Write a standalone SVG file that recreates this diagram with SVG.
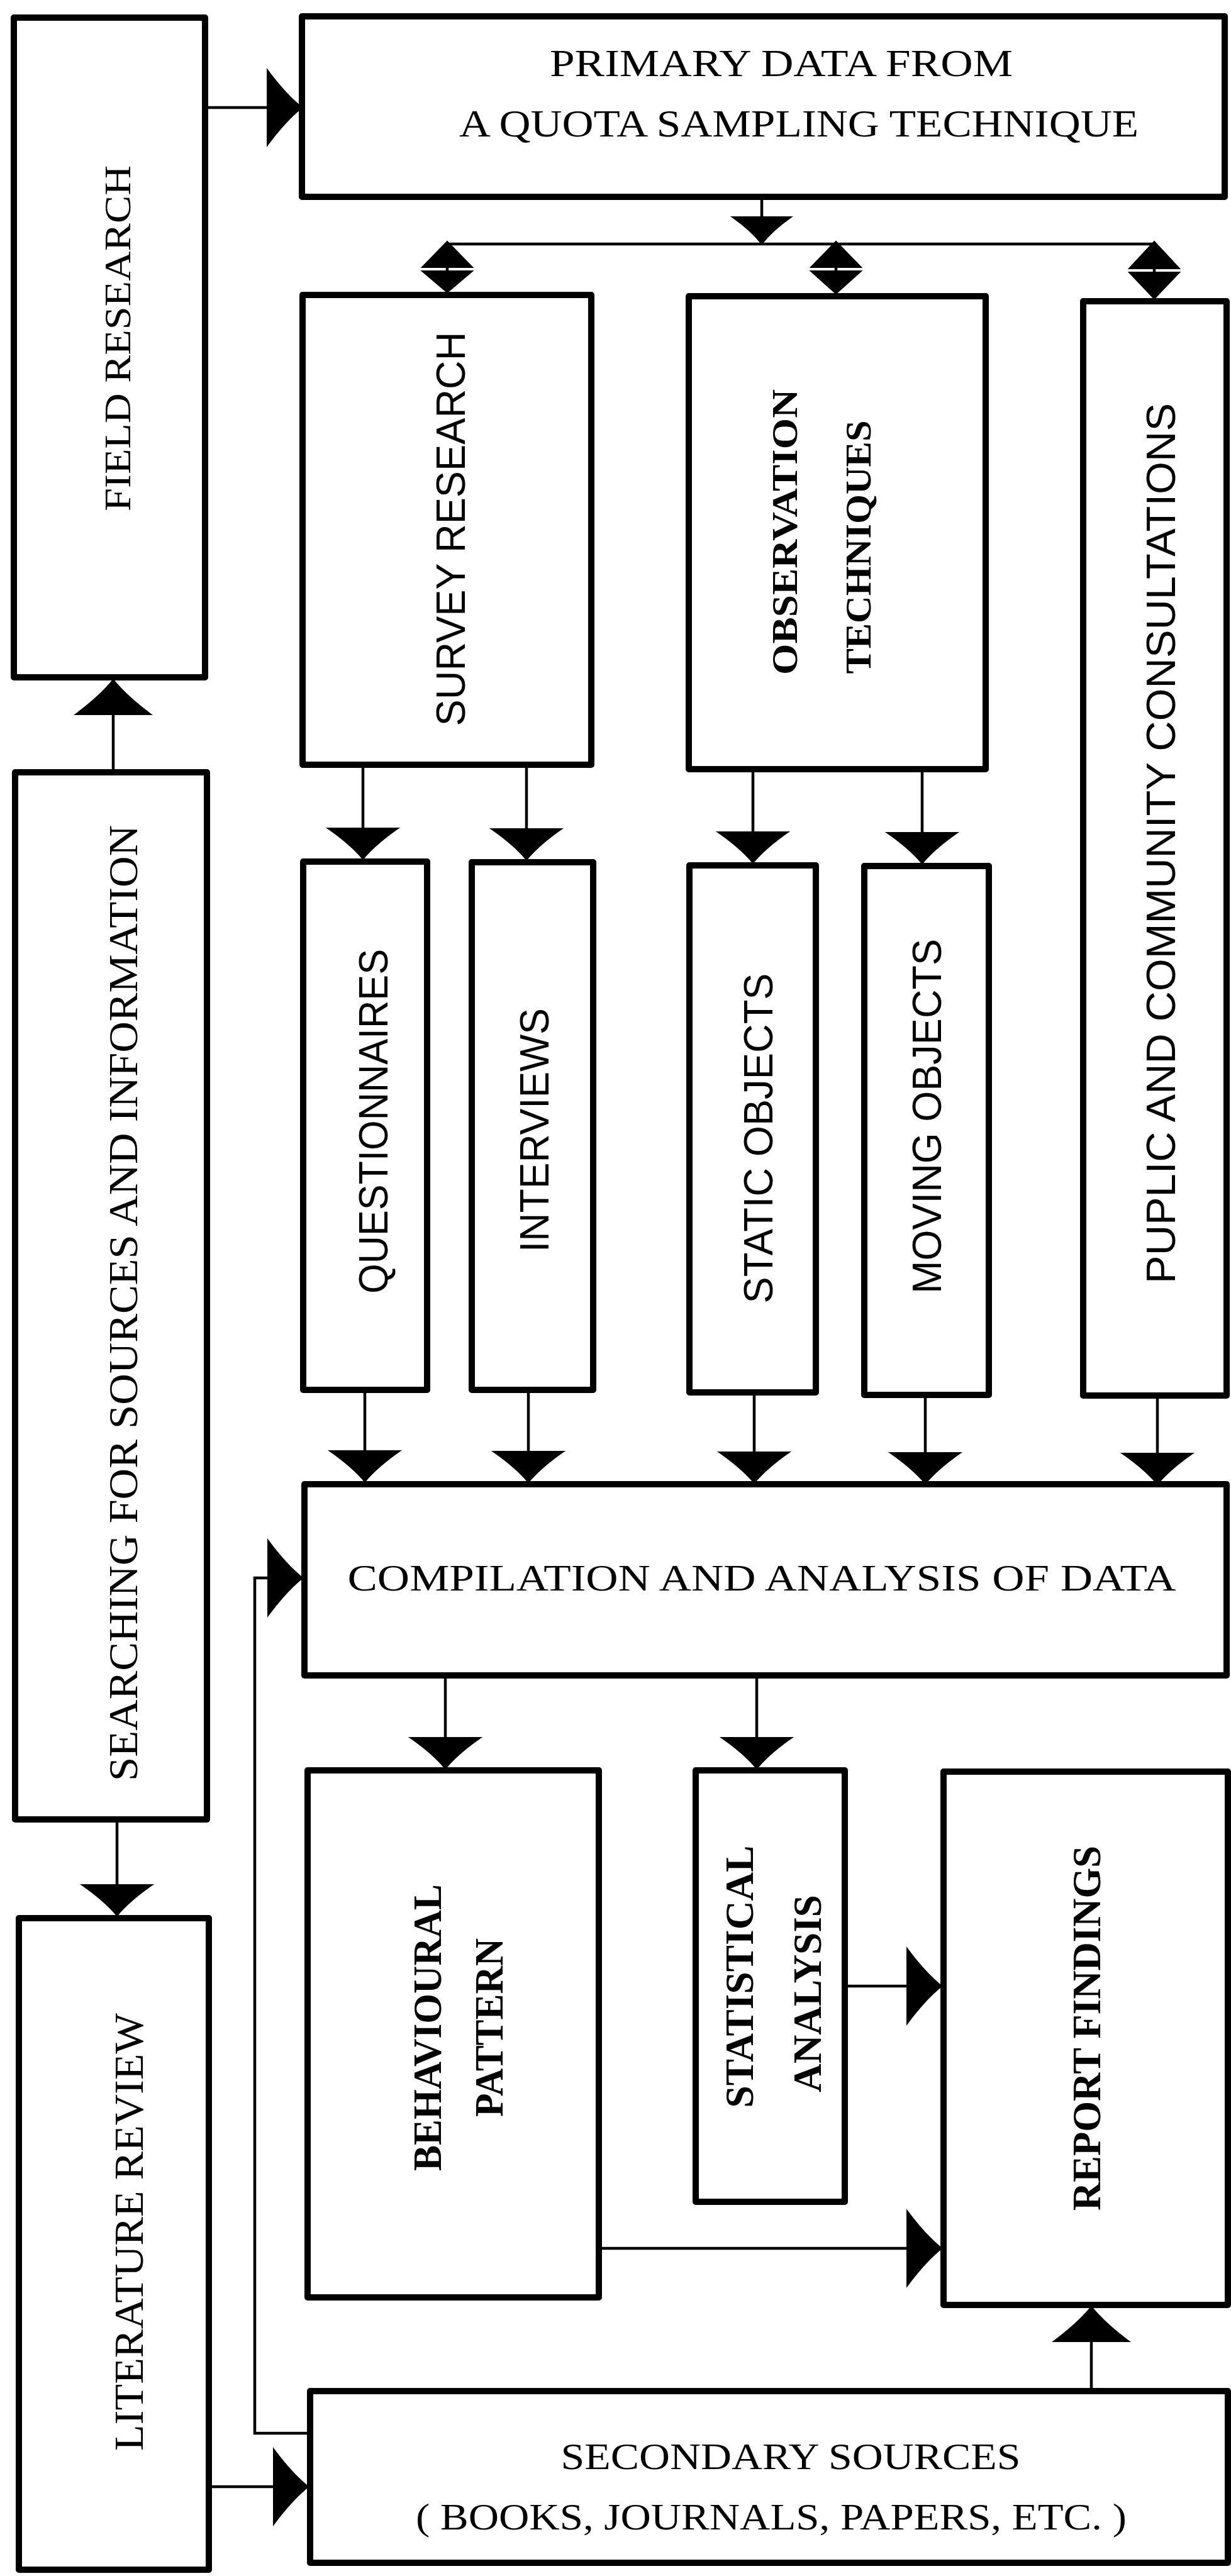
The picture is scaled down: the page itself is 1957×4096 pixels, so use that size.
<svg xmlns="http://www.w3.org/2000/svg" width="1957" height="4096" viewBox="0 0 1957 4096">
<defs>
<style>
.box{fill:#fff;stroke:#000;stroke-width:10;stroke-linejoin:round}
.ln{fill:none;stroke:#000;stroke-width:4.5}
.ah{fill:#000;stroke:#000;stroke-width:2}
.ser{font-family:"Liberation Serif","Times New Roman",serif;fill:#000}
.serb{font-family:"Liberation Serif","Times New Roman",serif;font-weight:bold;fill:#000}
.sans{font-family:"Liberation Sans",Arial,sans-serif;fill:#000}
</style>
<path id="ahD" d="M0,0 Q-20,-24 -56,-49 L56,-49 Q20,-24 0,0 Z"/>
<path id="ahH" d="M0,0 Q-22,-27 -60,-55 L60,-55 Q22,-27 0,0 Z"/>
<path id="ahS" d="M0,0 Q-16,-21 -47,-43 L47,-43 Q16,-21 0,0 Z"/>
</defs>
<rect width="1957" height="4096" fill="#fff"/>

<g id="connectors">
  <line class="ln" x1="326" y1="171" x2="432" y2="171"/>
  <use href="#ahH" class="ah" transform="translate(480,171) rotate(-90)"/>
  <line class="ln" x1="180" y1="1228" x2="180" y2="1130"/>
  <use href="#ahH" class="ah" transform="translate(180,1081) rotate(180)"/>
  <line class="ln" x1="186" y1="2893" x2="186" y2="3000"/>
  <use href="#ahD" class="ah" transform="translate(186,3046)"/>
  <line class="ln" x1="332" y1="3954" x2="442" y2="3954"/>
  <use href="#ahH" class="ah" transform="translate(490,3954) rotate(-90)"/>
  <polyline class="ln" points="493,3869 405,3869 405,2509 440,2509"/>
  <use href="#ahH" class="ah" transform="translate(481,2509) rotate(-90)"/>
  <line class="ln" x1="1211" y1="313" x2="1211" y2="350"/>
  <use href="#ahS" class="ah" transform="translate(1211,388)"/>
  <line class="ln" x1="711" y1="388" x2="1835" y2="388" stroke-width="5"/>
  <line class="ln" x1="711" y1="388" x2="711" y2="466"/>
  <path class="ah" d="M711,384 L671,425 L751,425 Z M671,431 L751,431 L711,465 Z"/>
  <line class="ln" x1="1329" y1="388" x2="1329" y2="468"/>
  <path class="ah" d="M1329,384 L1289,425 L1369,425 Z M1289,431 L1369,431 L1329,467 Z"/>
  <line class="ln" x1="1835" y1="388" x2="1835" y2="476"/>
  <path class="ah" d="M1835,384 L1795,427 L1875,427 Z M1795,433 L1875,433 L1835,475 Z"/>
  <line class="ln" x1="577" y1="1216" x2="577" y2="1325"/>
  <use href="#ahD" class="ah" transform="translate(577,1366)"/>
  <line class="ln" x1="837" y1="1216" x2="837" y2="1325"/>
  <use href="#ahD" class="ah" transform="translate(837,1367)"/>
  <line class="ln" x1="1197" y1="1223" x2="1197" y2="1330"/>
  <use href="#ahD" class="ah" transform="translate(1197,1372)"/>
  <line class="ln" x1="1466" y1="1223" x2="1466" y2="1330"/>
  <use href="#ahD" class="ah" transform="translate(1466,1373)"/>
  <line class="ln" x1="580" y1="2210" x2="580" y2="2315"/>
  <use href="#ahD" class="ah" transform="translate(580,2356)"/>
  <line class="ln" x1="840" y1="2210" x2="840" y2="2315"/>
  <use href="#ahD" class="ah" transform="translate(840,2357)"/>
  <line class="ln" x1="1199" y1="2214" x2="1199" y2="2318"/>
  <use href="#ahD" class="ah" transform="translate(1199,2358)"/>
  <line class="ln" x1="1471" y1="2218" x2="1471" y2="2318"/>
  <use href="#ahD" class="ah" transform="translate(1471,2359)"/>
  <line class="ln" x1="1840" y1="2219" x2="1840" y2="2320"/>
  <use href="#ahD" class="ah" transform="translate(1840,2360)"/>
  <line class="ln" x1="708" y1="2664" x2="708" y2="2770"/>
  <use href="#ahD" class="ah" transform="translate(708,2812)"/>
  <line class="ln" x1="1203" y1="2664" x2="1203" y2="2770"/>
  <use href="#ahD" class="ah" transform="translate(1203,2812)"/>
  <line class="ln" x1="1343" y1="3158" x2="1452" y2="3158"/>
  <use href="#ahH" class="ah" transform="translate(1497,3158) rotate(-90)"/>
  <line class="ln" x1="952" y1="3575" x2="1452" y2="3575"/>
  <use href="#ahH" class="ah" transform="translate(1497,3575) rotate(-90)"/>
  <line class="ln" x1="1735" y1="3802" x2="1735" y2="3715"/>
  <use href="#ahH" class="ah" transform="translate(1735,3668) rotate(180)"/>
</g>

<g id="field-research">
  <rect class="box" x="22" y="28" width="304" height="1049"/>
  <text class="ser" font-size="60" text-anchor="middle" textLength="550" lengthAdjust="spacingAndGlyphs" transform="translate(207,538) rotate(-90)">FIELD RESEARCH</text>
</g>
<g id="primary-data">
  <rect class="box" x="480" y="26" width="1467" height="287"/>
  <text class="ser" font-size="62" x="1242" y="121" text-anchor="middle" textLength="736" lengthAdjust="spacingAndGlyphs">PRIMARY DATA FROM</text>
  <text class="ser" font-size="62" x="1270" y="217" text-anchor="middle" textLength="1080" lengthAdjust="spacingAndGlyphs">A QUOTA SAMPLING TECHNIQUE</text>
</g>
<g id="searching">
  <rect class="box" x="24" y="1228" width="305" height="1665"/>
  <text class="ser" font-size="65" text-anchor="middle" textLength="1520" lengthAdjust="spacingAndGlyphs" transform="translate(218,2072) rotate(-90)">SEARCHING FOR SOURCES AND INFORMATION</text>
</g>
<g id="literature-review">
  <rect class="box" x="30" y="3050" width="302" height="1036"/>
  <text class="ser" font-size="66" text-anchor="middle" textLength="696" lengthAdjust="spacingAndGlyphs" transform="translate(227,3549) rotate(-90)">LITERATURE REVIEW</text>
</g>
<g id="survey-research">
  <rect class="box" x="481" y="469" width="459" height="747"/>
  <text class="sans" font-size="64" text-anchor="middle" textLength="627" lengthAdjust="spacingAndGlyphs" transform="translate(739,841) rotate(-90)">SURVEY RESEARCH</text>
</g>
<g id="observation-techniques">
  <rect class="box" x="1095" y="471" width="472" height="752"/>
  <text class="serb" font-size="58" text-anchor="middle" textLength="454" lengthAdjust="spacingAndGlyphs" transform="translate(1267,846) rotate(-90)">OBSERVATION</text>
  <text class="serb" font-size="58" text-anchor="middle" textLength="403" lengthAdjust="spacingAndGlyphs" transform="translate(1384,870) rotate(-90)">TECHNIQUES</text>
</g>
<g id="puplic-consultations">
  <rect class="box" x="1722" y="479" width="228" height="1740"/>
  <text class="sans" font-size="64" text-anchor="middle" textLength="1400" lengthAdjust="spacingAndGlyphs" transform="translate(1868,1341) rotate(-90)">PUPLIC AND COMMUNITY CONSULTATIONS</text>
</g>
<g id="questionnaires">
  <rect class="box" x="482" y="1370" width="197" height="840"/>
  <text class="sans" font-size="64" text-anchor="middle" textLength="548" lengthAdjust="spacingAndGlyphs" transform="translate(616,1783) rotate(-90)">QUESTIONNAIRES</text>
</g>
<g id="interviews">
  <rect class="box" x="750" y="1371" width="193" height="839"/>
  <text class="sans" font-size="64" text-anchor="middle" textLength="388" lengthAdjust="spacingAndGlyphs" transform="translate(872,1797) rotate(-90)">INTERVIEWS</text>
</g>
<g id="static-objects">
  <rect class="box" x="1096" y="1376" width="201" height="838"/>
  <text class="sans" font-size="64" text-anchor="middle" textLength="525" lengthAdjust="spacingAndGlyphs" transform="translate(1228,1810) rotate(-90)">STATIC OBJECTS</text>
</g>
<g id="moving-objects">
  <rect class="box" x="1374" y="1377" width="198" height="841"/>
  <text class="sans" font-size="64" text-anchor="middle" textLength="564" lengthAdjust="spacingAndGlyphs" transform="translate(1496,1775) rotate(-90)">MOVING OBJECTS</text>
</g>
<g id="compilation">
  <rect class="box" x="484" y="2360" width="1466" height="304"/>
  <text class="ser" font-size="60" x="1211" y="2529" text-anchor="middle" textLength="1317" lengthAdjust="spacingAndGlyphs">COMPILATION AND ANALYSIS OF DATA</text>
</g>
<g id="behavioural-pattern">
  <rect class="box" x="489" y="2815" width="463" height="838"/>
  <text class="serb" font-size="64" text-anchor="middle" textLength="456" lengthAdjust="spacingAndGlyphs" transform="translate(701,3224) rotate(-90)">BEHAVIOURAL</text>
  <text class="serb" font-size="64" text-anchor="middle" textLength="284" lengthAdjust="spacingAndGlyphs" transform="translate(799,3224) rotate(-90)">PATTERN</text>
</g>
<g id="statistical-analysis">
  <rect class="box" x="1106" y="2815" width="237" height="686"/>
  <text class="serb" font-size="64" text-anchor="middle" textLength="417" lengthAdjust="spacingAndGlyphs" transform="translate(1197,3143) rotate(-90)">STATISTICAL</text>
  <text class="serb" font-size="64" text-anchor="middle" textLength="314" lengthAdjust="spacingAndGlyphs" transform="translate(1305,3170) rotate(-90)">ANALYSIS</text>
</g>
<g id="report-findings">
  <rect class="box" x="1500" y="2817" width="452" height="848"/>
  <text class="serb" font-size="64" text-anchor="middle" textLength="580" lengthAdjust="spacingAndGlyphs" transform="translate(1749,3225) rotate(-90)">REPORT FINDINGS</text>
</g>
<g id="secondary-sources">
  <rect class="box" x="493" y="3802" width="1459" height="273"/>
  <text class="ser" font-size="60" x="1257" y="3926" text-anchor="middle" textLength="731" lengthAdjust="spacingAndGlyphs">SECONDARY SOURCES</text>
  <text class="ser" font-size="60" x="1226" y="4022" text-anchor="middle" textLength="1130" lengthAdjust="spacingAndGlyphs">( BOOKS, JOURNALS, PAPERS, ETC. )</text>
</g>
</svg>
